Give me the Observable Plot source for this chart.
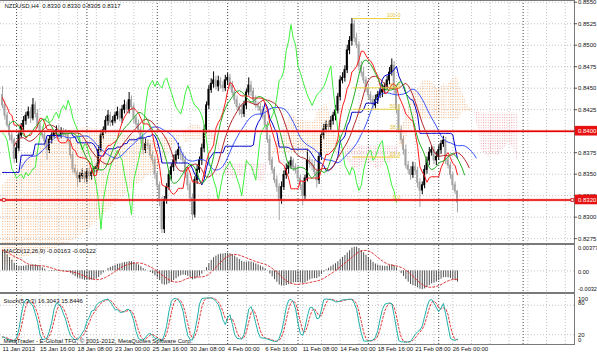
<!DOCTYPE html>
<html><head><meta charset="utf-8">
<script src="https://cdn.jsdelivr.net/npm/d3@7"></script>
<script src="https://cdn.jsdelivr.net/npm/@observablehq/plot@0.6"></script>
<style>
html,body{margin:0;padding:0;background:#fff;}
#wrap{position:relative;width:597px;height:354px;overflow:hidden;background:#fff;}
#wrap svg{position:absolute;left:0;overflow:visible;}
#wrap svg.axisLayer{z-index:5;}
.ln{position:absolute;background:#7a7a7a;}
</style></head><body><div id="wrap"></div>
<script>
// ---------- DATA (bar prices in pips above 0.8000) ----------
const symbolTitle = "NZDUSD,H4  0.8330 0.8330 0.8305 0.8317";
const macdTitle = "MACD(12,26,9) -0.00163 -0.00122";
const stochTitle = "Stoch(5,3,3) 16.3043 15.8446";
const copyright = "MetaTrader - E-Global TFG, \u00a9 2001-2012, MetaQuotes Software Corp.";
const firstOpen = 442;
const closePips = [
430,418,407,395,389,368,380,395,405,412,
418,422,415,430,420,407,400,395,388,378,
390,395,398,401,396,400,398,395,389,372,
356,352,345,348,350,345,352,348,352,356,
358,378,395,401,412,418,410,412,418,422,
415,425,430,425,436,428,415,408,401,390,
378,385,383,372,366,350,337,318,286,320,
335,349,358,366,372,378,372,366,350,337,
322,303,343,355,366,380,401,430,448,455,
459,452,458,453,450,459,462,453,445,436,
428,424,420,430,445,453,446,436,430,428,
424,418,407,390,366,355,343,335,320,335,
349,356,360,365,358,354,345,337,325,345,
366,362,360,352,343,370,395,402,407,405,
412,418,424,440,459,462,471,494,505,524,
508,500,476,468,459,450,442,436,430,436,
442,445,448,452,459,468,476,448,425,401,
390,378,360,355,349,358,354,340,331,337,
355,366,375,378,366,370,378,385,389,366,
360,349,337,330,317];
const upWick = [
10,5,4,4,5,3,6,5,4,5, 4,6,5,8,4,5,3,5,4,4, 5,4,3,5,6,4,3,4,5,3, 4,5,3,4,6,3,4,5,4,3,
4,5,6,4,5,6,4,5,4,6, 4,5,6,4,9,5,4,3,5,4, 4,6,5,3,4,5,3,4,5,4, 4,5,4,6,5,8,4,3,5,4,
4,5,4,5,4,5,6,4,5,6, 10,5,6,4,5,6,5,4,5,4, 5,4,6,5,4,9,5,4,5,4, 4,5,6,4,5,4,3,5,4,6,
5,6,4,5,3,4,5,4,5,4, 12,4,5,6,4,5,4,6,5,4, 5,4,6,4,5,6,5,6,5,7, 5,6,4,5,6,4,5,4,5,6,
4,5,6,4,5,6,8,5,4,6, 5,4,6,5,4,6,5,4,5,4, 5,4,6,5,4,6,5,4,5,4, 5,4,3,4,0];
const loWick = [
4,5,3,6,4,6,5,4,3,5, 5,4,6,3,5,4,5,4,6,12, 4,5,3,4,6,5,4,3,5,4, 5,4,10,5,4,6,5,4,5,4,
5,4,3,5,4,6,5,4,3,5, 4,6,5,4,5,4,6,5,4,5, 6,4,5,4,5,6,5,6,5,5, 5,4,6,5,4,5,6,4,5,6,
5,7,4,5,4,6,5,4,5,4, 5,4,6,4,5,4,6,5,4,5, 4,6,5,4,5,4,6,5,4,5, 6,4,5,4,6,5,4,6,24,5,
4,5,6,4,5,4,5,6,12,5, 4,5,6,4,9,5,4,5,4,5, 4,5,6,4,5,4,5,4,5,6, 5,4,6,5,4,5,6,4,5,4,
5,4,6,5,4,5,4,6,5,4, 5,6,4,5,6,4,5,6,20,5, 4,5,6,4,5,6,4,5,4,5, 4,5,6,4,12];
const dateLabels = ["11 Jan 2013","15 Jan 16:00","18 Jan 08:00","23 Jan 00:00","25 Jan 16:00","30 Jan 08:00","4 Feb 00:00","6 Feb 16:00","11 Feb 08:00","14 Feb 00:00","18 Feb 16:00","21 Feb 08:00","26 Feb 00:00"];
const labelBars = [0,16,32,48,64,80,96,112,128,144,160,176,192];
const weekBars = [6,36,66,96,126,156,186,222];
// price-axis values in full pips (0.8550 = 8550)
const priceTicks = [8550,8525,8500,8475,8450,8425,8400,8375,8350,8325,8300,8275];
const hLevels = [8400, 8320];
const fibLevels = [0, 23.6, 38.2, 50, 61.8, 100];
const fibLowPips = 320, fibHighPips = 531, fibStartBar = 149.5, fibEndBar = 169.7;
// Ichimoku values carried from history before the first bar (pips above 0.8000)
const kijunPrePips = [352,352,352,352,352,352,352,352,372,372,372,372,372,372,385,385,385,385,385,395,395,395,395,395,395,395];
const cloudPreBars = [0,4,8,12,16,20,24,28,32,36,40,44,48,52,56,60,64,68,72,76];
const spanAPre = [337,348,360,372,381,389,396,401,403,404,403,401,398,396,394,391,390,392,394,396];
const spanBPre = [244,247,252,255,259,261,265,269,276,284,294,305,316,325,335,343,352,360,378,393];
const jawSeed = 350, teethSeed = 375, lipsSeed = 400, ema12Seed = 428, ema26Seed = 395;
const macdRange = [-0.00321, 0.00377];
const macdLabels = [{v: 0.00377, t: "0.00377"}, {v: 0, t: "0.00"}, {v: -0.00321, t: "-0.00321"}];
const stochLabels = [{v: 100, t: "100", dy: 4}, {v: 80, t: "80", dy: -2}, {v: 20, t: "20", dy: 0}, {v: 0, t: "0", dy: -4}];

// ---------- derived ----------
const P = v => 0.8 + v / 10000;        // pips above 0.8000 -> price
const Q = v => v / 10000;              // full pips -> price
const bars = closePips.map((c, i) => {
  const o = i === 0 ? firstOpen : closePips[i - 1];
  return {i, o: P(o), c: P(c), h: P(Math.max(o, c) + upWick[i]), l: P(Math.min(o, c) - loWick[i])};
});
const N = bars.length;
const midN = (i, n) => { let hh = -Infinity, ll = Infinity;
  for (let k = Math.max(0, i - n + 1); k <= i; k++) { hh = Math.max(hh, bars[k].h); ll = Math.min(ll, bars[k].l); }
  return (hh + ll) / 2; };
const tenkan = bars.map((b, i) => ({x: i, v: midN(i, 9)}));
const kijun = bars.map((b, i) => ({x: i, v: i < kijunPrePips.length ? P(kijunPrePips[i]) : midN(i, 26)}));
const chikou = bars.filter(b => b.i >= 26).map(b => ({x: b.i - 26, v: b.c}));
const cloud = cloudPreBars.map((b, k) => ({x: b, A: P(spanAPre[k]), B: P(spanBPre[k])}));
for (let i = 77; i <= N - 1 + 26; i++) { const s = i - 26; cloud.push({x: i, A: (midN(s, 9) + midN(s, 26)) / 2, B: midN(s, 52)}); }
cloud.forEach(d => { d.top = Math.max(d.A, d.B); });
const med = bars.map(b => (b.h + b.l) / 2);
const smma = (n, seed, shift) => { let s = P(seed); return med.map((m, i) => ({x: i + shift, v: (s = (s * (n - 1) + m) / n)})); };
const jaw = smma(13, jawSeed, 8), teeth = smma(8, teethSeed, 5), lips = smma(5, lipsSeed, 3);
let e12 = P(ema12Seed), e26 = P(ema26Seed);
const macd = bars.map(b => { e12 += (2 / 13) * (b.c - e12); e26 += (2 / 27) * (b.c - e26); return e12 - e26; });
const macdData = macd.map((m, i) => ({x: i, m, s: d3.mean(macd.slice(Math.max(0, i - 8), i + 1))}));
const num = [], den = [];
bars.forEach((b, i) => { let hh = -Infinity, ll = Infinity;
  for (let k = Math.max(0, i - 4); k <= i; k++) { hh = Math.max(hh, bars[k].h); ll = Math.min(ll, bars[k].l); }
  num.push(b.c - ll); den.push(hh - ll); });
const stMain = bars.map((b, i) => { let a = 0, d = 0; for (let k = Math.max(0, i - 2); k <= i; k++) { a += num[k]; d += den[k]; } return d ? a / d * 100 : 50; });
const stoch = stMain.map((v, i) => ({x: i, k: v, d: d3.mean(stMain.slice(Math.max(0, i - 2), i + 1))}));
const tickObjs = priceTicks.map(t => ({p: t, t: Q(t).toFixed(4)}));
const levelObjs = hLevels.map(t => ({p: t, lo: t - 5.6, hi: t + 5.6, t: Q(t).toFixed(4)}));
const fibObjs = fibLevels.map(f => ({v: P(fibLowPips + (fibHighPips - fibLowPips) * f / 100), t: f.toFixed(1)}));

// ---------- layout ----------
const axisBar = 243.9;              // bar position of the price axis line
const xDomain = [-0.85, 253.71];    // whole 597px width
const labelBar = axisBar + 1.5, boxEnd = xDomain[1];
const gridBars = d3.range(8, 244, 8);
const FONT = "Liberation Sans, Arial, sans-serif";
const GRID = "#c4c4c4";
const wrap = document.getElementById("wrap");
function place(svg, top) { svg.style.top = top + "px"; wrap.appendChild(svg); return svg; }
function vgrid() { return [
  Plot.ruleX(gridBars, {stroke: GRID, strokeDasharray: "1,2"}),
  Plot.ruleX(weekBars, {stroke: "#444", strokeDasharray: "1,2"})]; }
const common = {width: 597, marginLeft: 0, marginRight: 0,
  style: {fontFamily: FONT, fontSize: "6px", background: "transparent"},
  x: {domain: xDomain, axis: null}};

const up = bars.filter(b => b.c >= b.o), dn = bars.filter(b => b.c < b.o);
const UPC = "#000000", DNC = "#a3a3a3";
const main = Plot.plot({...common,
  height: 244, marginTop: 0, marginBottom: 0,
  y: {domain: [0.82682, 0.85520], axis: null},
  marks: [
    Plot.ruleY(priceTicks.map(Q), {x1: xDomain[0], x2: axisBar, stroke: GRID, strokeDasharray: "1,2"}),
    ...vgrid(),
    Plot.ruleX(up, {x: "i", y1: "l", y2: "h", stroke: UPC, strokeWidth: 1}),
    Plot.ruleX(dn, {x: "i", y1: "l", y2: "h", stroke: DNC, strokeWidth: 1}),
    Plot.rect(up, {x1: d => d.i - 0.4, x2: d => d.i + 0.4, y1: "o", y2: "c", fill: UPC, insetTop: -0.5, insetBottom: -0.5}),
    Plot.rect(dn, {x1: d => d.i - 0.4, x2: d => d.i + 0.4, y1: "o", y2: "c", fill: DNC, insetTop: -0.5, insetBottom: -0.5}),
    Plot.areaY(cloud, {x: "x", y1: "B", y2: "top", fill: "url(#dotA)"}),
    Plot.areaY(cloud, {x: "x", y1: "A", y2: "top", fill: "url(#dotB)"}),
    Plot.line(chikou, {x: "x", y: "v", stroke: "#3cf03c", strokeWidth: 1}),
    Plot.line(jaw, {x: "x", y: "v", stroke: "#3a55ff", strokeWidth: 1}),
    Plot.line(kijun, {x: "x", y: "v", stroke: "#0000c8", strokeWidth: 1}),
    Plot.line(teeth, {x: "x", y: "v", stroke: "#b42828", strokeWidth: 1}),
    Plot.line(tenkan, {x: "x", y: "v", stroke: "#ff1a1a", strokeWidth: 1}),
    Plot.line(lips, {x: "x", y: "v", stroke: "#22b022", strokeWidth: 1}),
    Plot.ruleY(fibObjs, {y: "v", x1: fibStartBar, x2: fibEndBar, stroke: "#ecd040", strokeWidth: 1}),
    Plot.text(fibObjs, {y: "v", x: fibEndBar, text: "t", textAnchor: "end", dy: -3, fill: "#e2c63a", fontSize: 5.5}),
    Plot.ruleY(hLevels.map(Q), {x1: xDomain[0], x2: axisBar, stroke: "#ff9a9a", strokeWidth: 3, strokeOpacity: 0.5}),
    Plot.ruleY(hLevels.map(Q), {x1: xDomain[0], x2: axisBar, stroke: "#e00000", strokeWidth: 1.6}),
    Plot.text([symbolTitle], {frameAnchor: "top-left", dx: 4, dy: 3, lineAnchor: "top", fill: "#111", fontSize: 6})
  ]
});
const defs = d3.select(main).insert("defs", ":first-child");
[["dotA", "#f3b07a"], ["dotB", "#ee9fa6"]].forEach(([id, c]) => {
  const p = defs.append("pattern").attr("id", id).attr("patternUnits", "userSpaceOnUse").attr("width", 2.345).attr("height", 2.6);
  p.append("rect").attr("width", 1).attr("height", 1).attr("fill", c);
});
place(main, 0);

const macdPlot = Plot.plot({...common,
  height: 49, marginTop: 1, marginBottom: 1,
  y: {domain: macdRange, axis: null},
  marks: [
    ...vgrid(),
    Plot.ruleY([0], {x1: xDomain[0], x2: axisBar, stroke: GRID, strokeDasharray: "1,2"}),
    Plot.ruleX(macdData, {x: "x", y1: 0, y2: "m", stroke: "#3c3c3c", strokeWidth: 0.9, clip: true}),
    Plot.line(macdData, {x: "x", y: "s", stroke: "#e02020", strokeDasharray: "2,2", strokeWidth: 0.9, clip: true}),
    Plot.text([macdTitle], {frameAnchor: "top-left", dx: 3, dy: 3, lineAnchor: "top", fill: "#111", fontSize: 6}),
    Plot.text(macdLabels.slice(0, 1), {y: "v", x: labelBar, text: "t", textAnchor: "start", dy: 3, fill: "#111", fontSize: 5.6}),
    Plot.text(macdLabels.slice(1, 2), {y: "v", x: labelBar, text: "t", textAnchor: "start", dy: 1, fill: "#111", fontSize: 5.6}),
    Plot.text(macdLabels.slice(2), {y: "v", x: labelBar, text: "t", textAnchor: "start", dy: -3, fill: "#111", fontSize: 5.6})
  ]
});
place(macdPlot, 244);

const stochPlot = Plot.plot({...common,
  height: 61, marginTop: 2, marginBottom: 10,
  y: {domain: [0, 100], axis: null},
  marks: [
    ...vgrid(),
    Plot.ruleY([20, 80], {x1: xDomain[0], x2: axisBar, stroke: GRID, strokeDasharray: "1,2"}),
    Plot.line(stoch, {x: "x", y: "d", stroke: "#e02020", strokeDasharray: "2,2", strokeWidth: 0.9}),
    Plot.line(stoch, {x: "x", y: "k", stroke: "#20b2aa", strokeWidth: 1}),
    Plot.text([stochTitle], {frameAnchor: "top-left", dx: 3, dy: 3, lineAnchor: "top", fill: "#111", fontSize: 6}),
    Plot.text([copyright], {frameAnchor: "bottom-left", dx: 3, dy: -2, lineAnchor: "bottom", fill: "#111", fontSize: 6}),
    ...stochLabels.map(s => Plot.text([s], {y: "v", x: labelBar, text: "t", dy: s.dy, textAnchor: "start", fill: "#111", fontSize: 6})),
    Plot.text(labelBars, {x: d => d, text: (d, k) => dateLabels[k], frameAnchor: "bottom", dy: 6, textAnchor: "start", fill: "#111", fontSize: 6})
  ]
});
place(stochPlot, 293);

// panel frame lines
[["left:0;top:0;width:575px;height:1px"], ["left:0;top:243px;width:575px;height:2px"], ["left:0;top:291.5px;width:575px;height:2px"],
 ["left:0;top:344px;width:575px;height:1px"], ["left:574px;top:0;width:1px;height:345px"]].forEach(([s]) => {
  const d = document.createElement("div"); d.className = "ln"; d.style.cssText += s; wrap.appendChild(d); });

// price axis layer (same vertical scale as the main panel, in full pips), drawn on top
const priceAxis = Plot.plot({...common,
  height: 246, marginTop: 1, marginBottom: 1,
  y: {domain: [8268.2, 8552.0], axis: null},
  marks: [
    Plot.ruleY(tickObjs, {y: "p", x1: axisBar, x2: axisBar + 1.3, stroke: "#555", strokeWidth: 1}),
    Plot.text(tickObjs, {y: "p", x: labelBar, text: "t", textAnchor: "start", fill: "#111", fontSize: 6}),
    Plot.rect(levelObjs, {x1: axisBar + 0.3, x2: boxEnd, y1: "lo", y2: "hi", fill: "#e81010"}),
    Plot.text(levelObjs, {y: "p", x: labelBar, text: "t", textAnchor: "start", fill: "white", fontSize: 6}),
    Plot.dot(levelObjs.slice(1), {y: "p", x: axisBar - 0.9, symbol: "square", r: 1.6, fill: "white", stroke: "#d00000", strokeWidth: 0.8}),
    Plot.dot(levelObjs.slice(1), {y: "p", x: xDomain[0] + 1.4, symbol: "square", r: 1.6, fill: "white", stroke: "#d00000", strokeWidth: 0.8})
  ]
});
priceAxis.classList.add("axisLayer");
place(priceAxis, -1);
</script>
</body></html>
